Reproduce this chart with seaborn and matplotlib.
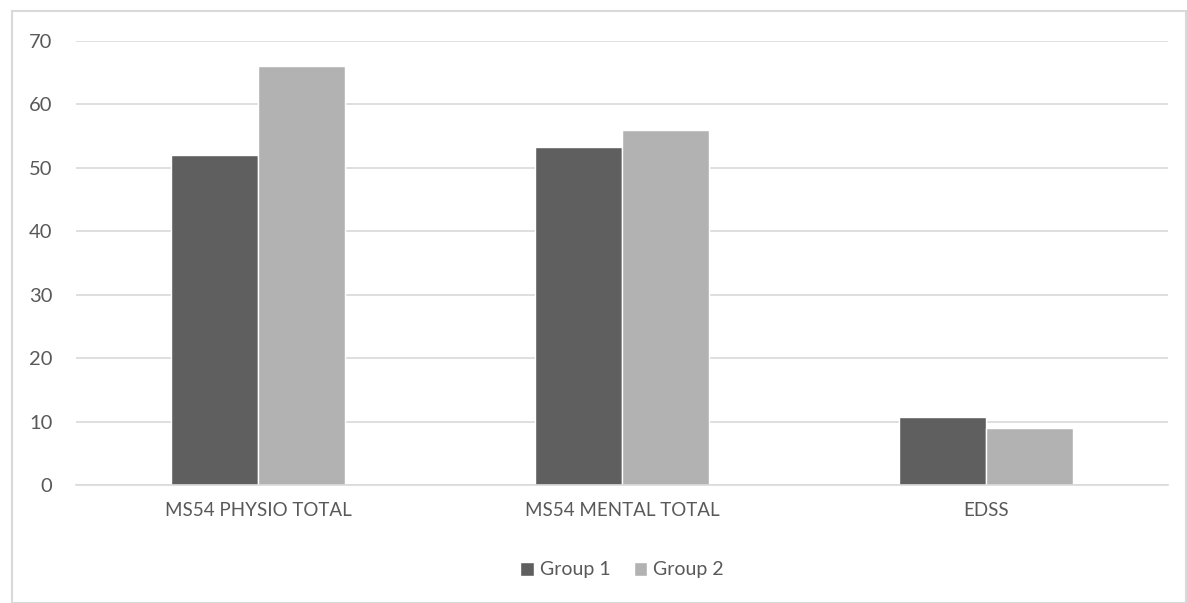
import pandas as pd
import seaborn as sns
import matplotlib.pyplot as plt
from matplotlib.patches import Rectangle

categories = ["MS54 PHYSIO TOTAL", "MS54 MENTAL TOTAL", "EDSS"]
group1 = [52.1, 53.3, 10.7]
group2 = [66.0, 56.0, 9.05]
series_names = ["Group 1", "Group 2"]
colors = ["#5f5f5f", "#b2b2b2"]

df = pd.DataFrame({
    "category": categories * 2,
    "value": group1 + group2,
    "group": [series_names[0]] * 3 + [series_names[1]] * 3,
})

sns.set_theme(style="white")
plt.rcParams["font.family"] = ["Lato", "DejaVu Sans"]
text_c = "#595959"

fig = plt.figure(figsize=(11.87, 6.03), dpi=100)
ax = fig.add_axes([76 / 1187, 1 - 485 / 603, (1168 - 76) / 1187, (485 - 41) / 603])

sns.barplot(data=df, x="category", y="value", hue="group", palette=colors,
            width=0.478, ax=ax, saturation=1, legend=True)

ax.set_ylim(0, 70)
ax.set_yticks(range(0, 71, 10))
ax.set_xlim(-0.5, 2.5)
ax.yaxis.grid(True, color="#d9d9d9", linewidth=1.2)
ax.set_axisbelow(True)
for s in ["top", "right", "left"]:
    ax.spines[s].set_visible(False)
ax.spines["bottom"].set_color("#d9d9d9")
ax.spines["bottom"].set_linewidth(1.2)
ax.tick_params(axis="y", length=0, labelsize=14.5, labelcolor=text_c, pad=17)
ax.tick_params(axis="x", length=0, labelsize=13.5, labelcolor=text_c, pad=12)
ax.set_xlabel("")
ax.set_ylabel("")

leg = ax.legend(loc="center", bbox_to_anchor=(0.5, (1 - 570 / 603 - (1 - 485 / 603)) / ((485 - 41) / 603)),
                ncol=2, frameon=False, fontsize=14, handlelength=0.7, handleheight=0.7,
                handletextpad=0.3, columnspacing=1.2)
for t in leg.get_texts():
    t.set_color(text_c)

fig.patches.append(Rectangle((12 / 1187, 0), 1 - 12 / 1187 - 0.001, 1 - 11 / 603,
                             transform=fig.transFigure, fill=False,
                             edgecolor="#d9d9d9", linewidth=1.5))

fig.savefig("out.png", dpi=100)
